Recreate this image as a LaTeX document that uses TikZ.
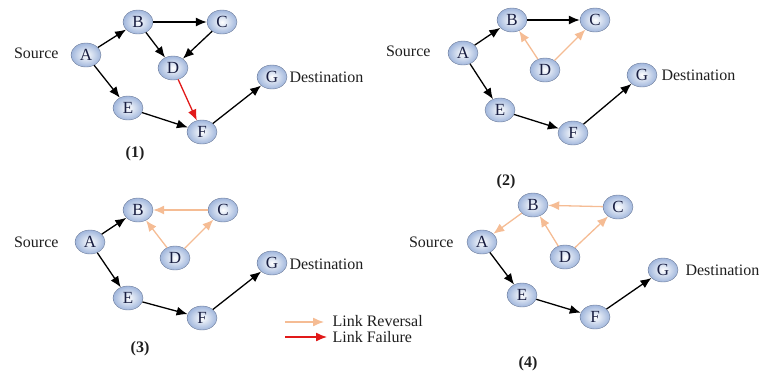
\documentclass[tikz,border=0pt]{standalone}
\usepackage{fontspec}
\setmainfont{Liberation Serif}
\usetikzlibrary{shapes.geometric, arrows.meta}
\definecolor{nodeblue}{RGB}{160,182,220}
\definecolor{nodeline}{RGB}{110,125,155}
\definecolor{reversal}{RGB}{245,188,148}
\definecolor{failure}{RGB}{225,25,25}
\tikzset{
  vertex/.style={ellipse, draw=nodeline, thin, shading=radial, inner color=white,
    outer color=nodeblue, minimum width=30pt, minimum height=24pt, inner sep=0pt,
    font=\fontsize{17}{17}\selectfont, text={rgb,255:red,25;green,30;blue,65}},
  txt/.style={font=\fontsize{16}{19}\selectfont, text={rgb,255:red,30;green,30;blue,30}},
  link/.style={-{Latex[length=11pt,width=9pt]}, line width=1.3pt, black},
  rev/.style={-{Latex[length=11pt,width=9pt]}, line width=1.3pt, reversal},
  fail/.style={-{Latex[length=11pt,width=9pt]}, line width=1.3pt, failure}
}
\begin{document}
\begin{tikzpicture}[x=1pt,y=-1pt]
    \useasboundingbox (0,0) rectangle (762,378);
    % (1)
    \node[vertex] (a1) at (86,55) {A};
    \node[vertex] (b1) at (138,22) {B};
    \node[vertex] (c1) at (222,22) {C};
    \node[vertex] (d1) at (173,68) {D};
    \node[vertex] (e1) at (128,108) {E};
    \node[vertex] (f1) at (202,132) {F};
    \node[vertex] (g1) at (272,77) {G};
    \node[txt, anchor=east] (s1) at (62,53) {Source};
    \node[txt, anchor=west] (t1) at (286,77) {Destination};
    \node[txt] (n1) at (135,154) {\textbf{(1)}};
    \draw[link] (a1) -- (b1);
    \draw[link] (a1) -- (e1);
    \draw[link] (b1) -- (c1);
    \draw[link] (b1) -- (d1);
    \draw[link] (c1) -- (d1);
    \draw[fail] (d1) -- (f1);
    \draw[link] (e1) -- (f1);
    \draw[link] (f1) -- (g1);
    % (2)
    \node[vertex] (a2) at (463,53) {A};
    \node[vertex] (b2) at (512,20) {B};
    \node[vertex] (c2) at (595,20) {C};
    \node[vertex] (d2) at (545,70) {D};
    \node[vertex] (e2) at (500,110) {E};
    \node[vertex] (f2) at (573,133) {F};
    \node[vertex] (g2) at (642,75) {G};
    \node[txt, anchor=east] (s2) at (434,51) {Source};
    \node[txt, anchor=west] (t2) at (658,75) {Destination};
    \node[txt] (n2) at (506,182) {\textbf{(2)}};
    \draw[link] (a2) -- (b2);
    \draw[link] (a2) -- (e2);
    \draw[link] (b2) -- (c2);
    \draw[rev] (d2) -- (b2);
    \draw[rev] (d2) -- (c2);
    \draw[link] (e2) -- (f2);
    \draw[link] (f2) -- (g2);
    % (3)
    \node[vertex] (a3) at (90,242) {A};
    \node[vertex] (b3) at (138,210) {B};
    \node[vertex] (c3) at (223,210) {C};
    \node[vertex] (d3) at (175,258) {D};
    \node[vertex] (e3) at (128,298) {E};
    \node[vertex] (f3) at (202,318) {F};
    \node[vertex] (g3) at (272,263) {G};
    \node[txt, anchor=east] (s3) at (62,242) {Source};
    \node[txt, anchor=west] (t3) at (286,264) {Destination};
    \node[txt] (n3) at (140,349) {\textbf{(3)}};
    \draw[link] (a3) -- (b3);
    \draw[link] (a3) -- (e3);
    \draw[rev] (c3) -- (b3);
    \draw[rev] (d3) -- (b3);
    \draw[rev] (d3) -- (c3);
    \draw[link] (e3) -- (f3);
    \draw[link] (f3) -- (g3);
    % (4)
    \node[vertex] (a4) at (482,242) {A};
    \node[vertex] (b4) at (533,205) {B};
    \node[vertex] (c4) at (618,207) {C};
    \node[vertex] (d4) at (565,257) {D};
    \node[vertex] (e4) at (522,295) {E};
    \node[vertex] (f4) at (595,317) {F};
    \node[vertex] (g4) at (663,270) {G};
    \node[txt, anchor=east] (s4) at (457,242) {Source};
    \node[txt, anchor=west] (t4) at (682,270) {Destination};
    \node[txt] (n4) at (528,364) {\textbf{(4)}};
    \draw[rev] (b4) -- (a4);
    \draw[link] (a4) -- (e4);
    \draw[rev] (c4) -- (b4);
    \draw[rev] (d4) -- (b4);
    \draw[rev] (d4) -- (c4);
    \draw[link] (e4) -- (f4);
    \draw[link] (f4) -- (g4);
    % legend
    \coordinate (r0) at (285,322);
    \coordinate (r1) at (324,322);
    \coordinate (x0) at (285,337);
    \coordinate (x1) at (327,337);
    \draw[rev] (r0) -- (r1);
    \draw[fail] (x0) -- (x1);
    \node[txt, anchor=west] (lr) at (329,321) {Link Reversal};
    \node[txt, anchor=west] (lf) at (329,337) {Link Failure};
\end{tikzpicture}
\end{document}
